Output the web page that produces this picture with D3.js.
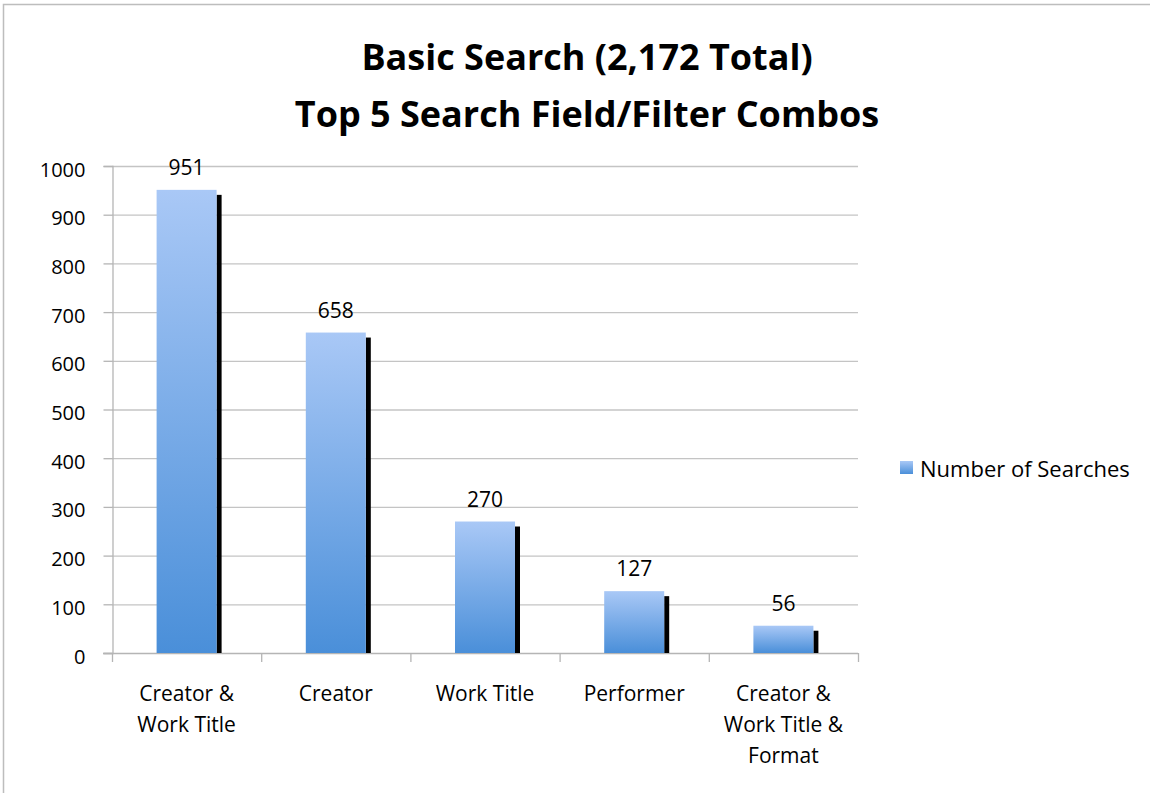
<!DOCTYPE html>
<html>
<head>
<meta charset="utf-8">
<script src="https://cdn.jsdelivr.net/npm/d3@7"></script>
<style>
  body { margin: 0; background: #fff; }
  text { font-family: "Open Sans", "Noto Sans", sans-serif; fill: #000; }
</style>
</head>
<body>
<div id="chart"></div>
<script>
const categories = [
  ['Creator &', 'Work Title'],
  ['Creator'],
  ['Work Title'],
  ['Performer'],
  ['Creator &', 'Work Title &', 'Format']
]
const searches = [951, 658, 270, 127, 56]
const yTicks = [0, 100, 200, 300, 400, 500, 600, 700, 800, 900, 1000]
const titleLines = ['Basic Search (2,172 Total)', 'Top 5 Search Field/Filter Combos']
const seriesName = 'Number of Searches'

const WIDTH = 1150
const HEIGHT = 793
const plot = { left: 112, right: 858, top: 166, bottom: 653 }

const svg = d3.select('#chart').append('svg')
              .attr('width', WIDTH)
              .attr('height', HEIGHT)

// frame (top + left only visible)
svg.append('path')
   .attr('d', `M3.5,${HEIGHT} L3.5,4.5 L${WIDTH},4.5`)
   .attr('fill', 'none')
   .attr('stroke', '#bdbdbd')
   .attr('stroke-width', 1.5)

const defs = svg.append('defs')
const grad = defs.append('linearGradient')
                 .attr('id', 'bar-grad')
                 .attr('x1', 0).attr('y1', 0)
                 .attr('x2', 0).attr('y2', 1)
grad.append('stop').attr('offset', '0%').attr('stop-color', '#a9c8f6')
grad.append('stop').attr('offset', '100%').attr('stop-color', '#4a8fd9')

const x = d3.scaleBand()
            .domain(d3.range(categories.length))
            .range([plot.left, plot.right])
const y = d3.scaleLinear()
            .domain([0, 1000])
            .range([plot.bottom, plot.top])

// gridlines
svg.append('g')
   .selectAll('line')
   .data(yTicks.slice(1))
   .enter()
     .append('line')
     .attr('x1', plot.left)
     .attr('x2', plot.right)
     .attr('y1', d => y(d) + 0.5)
     .attr('y2', d => y(d) + 0.5)
     .attr('stroke', '#c4c4c4')
     .attr('stroke-width', 1.3)

// y axis
const yAxis = svg.append('g')
                 .attr('transform', `translate(${plot.left + 0.5},0)`)
                 .call(d3.axisLeft(y).tickValues(yTicks).tickFormat(d3.format('d'))
                         .tickSize(9).tickPadding(18))
yAxis.select('.domain').attr('stroke', '#b5b5b5').attr('stroke-width', 1.3)
yAxis.selectAll('.tick line').attr('stroke', '#b5b5b5').attr('stroke-width', 1.3)
yAxis.selectAll('.tick text')
     .attr('font-size', 20)
     .attr('dy', '0.5em')
     .attr('font-family', '"Open Sans", sans-serif')
     .attr('fill', '#000')

// x axis
svg.append('line')
   .attr('x1', plot.left - 9)
   .attr('x2', plot.right)
   .attr('y1', plot.bottom + 0.5)
   .attr('y2', plot.bottom + 0.5)
   .attr('stroke', '#b5b5b5')
   .attr('stroke-width', 1.3)
svg.append('g')
   .selectAll('line')
   .data(d3.range(categories.length + 1))
   .enter()
     .append('line')
     .attr('x1', i => plot.left + i * x.step() + 0.5)
     .attr('x2', i => plot.left + i * x.step() + 0.5)
     .attr('y1', plot.bottom)
     .attr('y2', plot.bottom + 9)
     .attr('stroke', '#b5b5b5')
     .attr('stroke-width', 1.3)

const BAR_W = 60
const SHADOW = 5
const bars = svg.append('g')
                .selectAll('g.bar')
                .data(searches)
                .enter()
                  .append('g')
                  .attr('class', 'bar')

bars.append('rect')
    .attr('x', (d, i) => x(i) + x.bandwidth() / 2 - BAR_W / 2 + BAR_W)
    .attr('y', d => y(d) + 5)
    .attr('width', SHADOW)
    .attr('height', d => plot.bottom - y(d) - 5)
    .attr('fill', '#000')

bars.append('rect')
    .attr('x', (d, i) => x(i) + x.bandwidth() / 2 - BAR_W / 2)
    .attr('y', d => y(d))
    .attr('width', BAR_W)
    .attr('height', d => plot.bottom - y(d))
    .attr('fill', 'url(#bar-grad)')

bars.append('text')
    .attr('x', (d, i) => x(i) + x.bandwidth() / 2)
    .attr('y', d => y(d) - 15)
    .attr('text-anchor', 'middle')
    .attr('font-size', 21)
    .text(d => d)

// category labels
const catText = svg.append('g')
                   .selectAll('text')
                   .data(categories)
                   .enter()
                     .append('text')
                     .attr('x', (d, i) => x(i) + x.bandwidth() / 2)
                     .attr('y', 701)
                     .attr('text-anchor', 'middle')
                     .attr('font-size', 21)
catText.selectAll('tspan')
       .data(d => d)
       .enter()
         .append('tspan')
         .attr('x', function () { return this.parentNode.getAttribute('x') })
         .attr('dy', (d, i) => i === 0 ? 0 : 31)
         .text(d => d)

// title
svg.append('g')
   .selectAll('text')
   .data(titleLines)
   .enter()
     .append('text')
     .attr('x', 587)
     .attr('y', (d, i) => 70 + i * 57)
     .attr('text-anchor', 'middle')
     .attr('font-size', 36)
     .attr('font-weight', 'bold')
     .text(d => d)

// legend
const legend = svg.append('g').attr('transform', 'translate(900,461)')
legend.append('rect')
      .attr('width', 13)
      .attr('height', 13)
      .attr('fill', 'url(#bar-grad)')
legend.append('text')
      .attr('x', 20)
      .attr('y', 16)
      .attr('font-size', 22)
      .text(seriesName)
</script>
</body>
</html>
